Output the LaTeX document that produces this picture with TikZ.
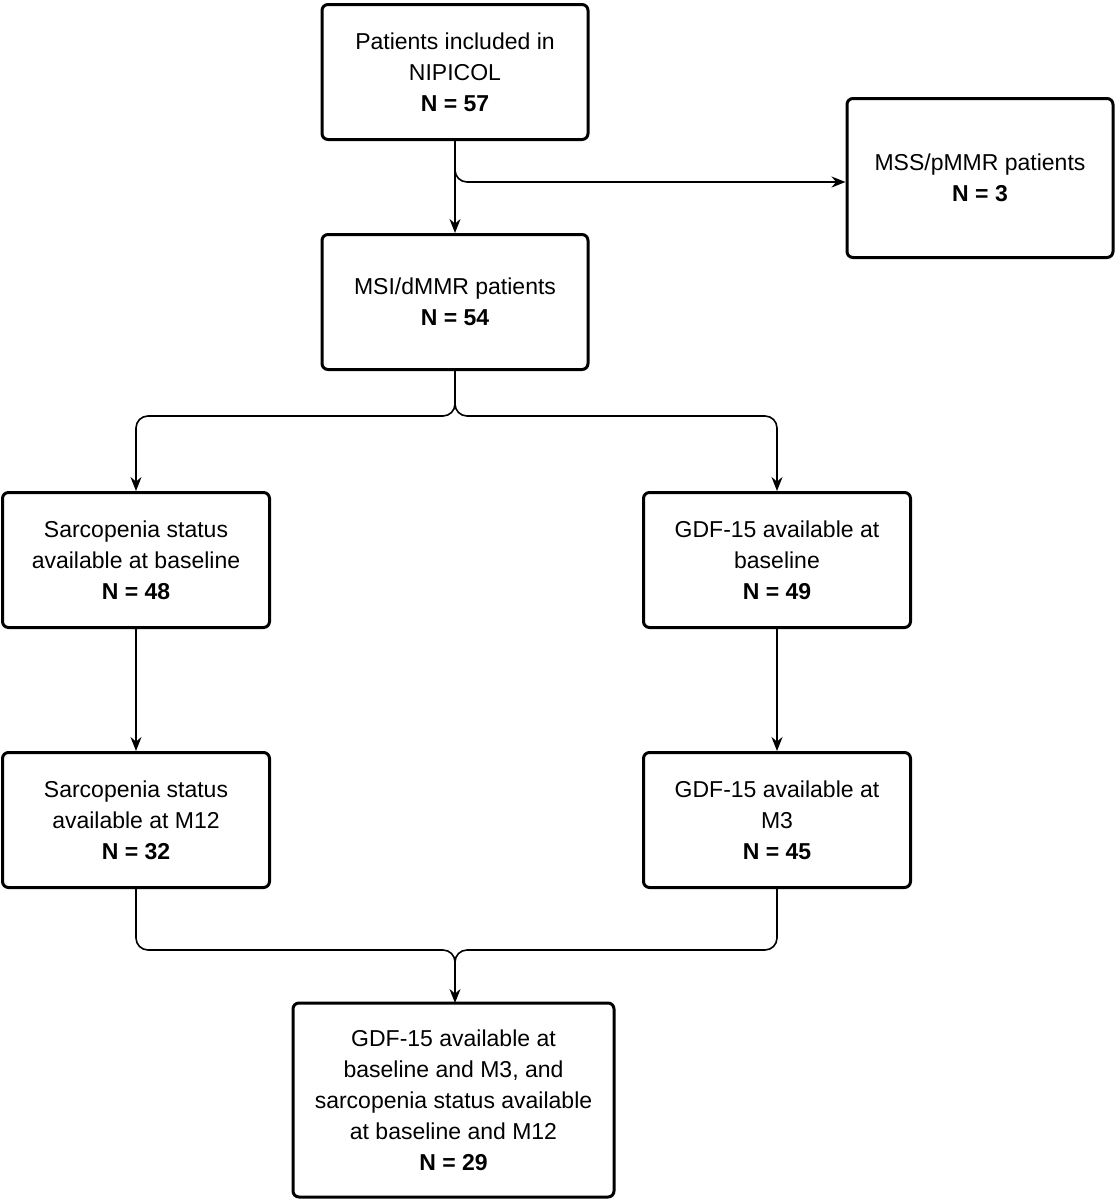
\documentclass[tikz,border=0pt]{standalone}
\usepackage{fontspec}
\setmainfont{Liberation Sans}
\usetikzlibrary{arrows.meta}
\begin{document}
\begin{tikzpicture}[x=1pt,y=-1pt,
 box/.style={draw,line width=3pt,rounded corners=6pt,align=center,inner sep=0pt,font=\fontsize{23}{31}\selectfont},
 arr/.style={line width=1.6pt,rounded corners=12pt,-{Stealth[length=14pt,width=11pt]}},
 ln/.style={line width=1.6pt,rounded corners=12pt}]
\useasboundingbox (0,0) rectangle (1118,1200);
\node[box,minimum width=266pt,minimum height=135pt] (top) at (455,72) {Patients included in\\NIPICOL\\\textbf{N = 57}};
\node[box,minimum width=266pt,minimum height=159pt] (mss) at (980,178) {MSS/pMMR patients\\\textbf{N = 3}};
\node[box,minimum width=266pt,minimum height=135pt] (msi) at (455,302) {MSI/dMMR patients\\\textbf{N = 54}};
\node[box,minimum width=267pt,minimum height=135pt] (sb) at (136,560) {Sarcopenia status\\available at baseline\\\textbf{N = 48}};
\node[box,minimum width=267pt,minimum height=135pt] (gb) at (777,560) {GDF-15 available at\\baseline\\\textbf{N = 49}};
\node[box,minimum width=267pt,minimum height=135pt] (sm) at (136,820) {Sarcopenia status\\available at M12\\\textbf{N = 32}};
\node[box,minimum width=267pt,minimum height=135pt] (gm) at (777,820) {GDF-15 available at\\M3\\\textbf{N = 45}};
\node[box,minimum width=321pt,minimum height=194pt] (fin) at (453.5,1100) {GDF-15 available at\\baseline and M3, and\\sarcopenia status available\\at baseline and M12\\\textbf{N = 29}};
\draw[arr] (top.south) -- (msi.north);
\draw[arr] (455,140) -- (455,182) -- (mss.west |- 0,182);
\draw[arr] (msi.south) -- (455,416) -- (136,416) -- (sb.north);
\draw[arr] (msi.south) -- (455,416) -- (777,416) -- (gb.north);
\draw[arr] (sb.south) -- (sm.north);
\draw[arr] (gb.south) -- (gm.north);
\draw[arr] (sm.south) -- (136,950) -- (455,950) -- (455,1003);
\draw[ln] (gm.south) -- (777,950) -- (455,950) -- (455,975);
\end{tikzpicture}
\end{document}
